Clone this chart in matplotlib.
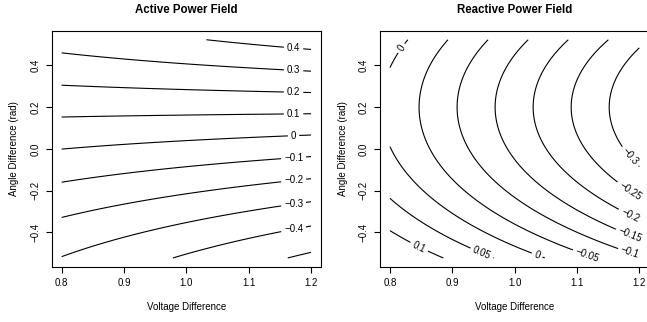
import numpy as np
import matplotlib
matplotlib.use("Agg")
import matplotlib.pyplot as plt

plt.rcParams['font.family'] = ['Liberation Sans', 'DejaVu Sans']
plt.rcParams['axes.unicode_minus'] = True
plt.rcParams['contour.negative_linestyle'] = 'solid'

# ---------------- data ----------------
voltage_range = [0.8, 1.2]
angle_range = [-np.pi / 6, np.pi / 6]
x_ticks = [0.8, 0.9, 1.0, 1.1, 1.2]
y_ticks = [-0.4, -0.2, 0.0, 0.2, 0.4]
p_unlabeled_levels = [-0.5]
p_label_levels = [-0.4, -0.3, -0.2, -0.1, 0.0, 0.1, 0.2, 0.3, 0.4]
q_levels = [-0.3, -0.25, -0.2, -0.15, -0.1, -0.05, 0.0, 0.05, 0.1]
q_edge_levels = [-0.3, -0.25, -0.2, -0.15, -0.1]
q_bottom_levels = [-0.05, 0.0, 0.05, 0.1]
q_top_levels = [0.0]
# line model parameters
line_reactance = 1.22
angle_offset = 0.2
p_offset = 0.131
q_offset = 0.644

# ---------------- field ----------------
v = np.linspace(voltage_range[0], voltage_range[1], 301)
th = np.linspace(angle_range[0], angle_range[1], 301)
V, TH = np.meshgrid(v, th)
P = p_offset + V * np.sin(TH - angle_offset) / line_reactance
Q = q_offset - V * np.cos(TH - angle_offset) / line_reactance


def fmt(val):
    s = f"{val:g}"
    if s in ("-0", "0"):
        return "0"
    return s.replace("-", "\u2212")


W, H = 647, 322
fig = plt.figure(figsize=(W / 100, H / 100), dpi=100)
ax_w, ax_h = 269.3 / W, 235.7 / H
bottom = (H - 266.7) / H
axL = fig.add_axes([51.7 / W, bottom, ax_w, ax_h])
axR = fig.add_axes([380.0 / W, bottom, ax_w, ax_h])

FS = 7.0
for ax, title in ((axL, "Active Power Field"), (axR, "Reactive Power Field")):
    pad_x = 0.04 * (voltage_range[1] - voltage_range[0])
    pad_y = 0.04 * (angle_range[1] - angle_range[0])
    ax.set_xlim(voltage_range[0] - pad_x, voltage_range[1] + pad_x)
    ax.set_ylim(angle_range[0] - pad_y, angle_range[1] + pad_y)
    ax.set_xticks(x_ticks)
    ax.set_xticklabels([f"{t:.1f}" for t in x_ticks])
    ax.set_yticks(y_ticks)
    ax.set_yticklabels([fmt(round(t, 1)) if t != 0 else "0.0" for t in y_ticks],
                       rotation=90, va='center')
    ax.tick_params(direction='out', length=4, width=0.8, labelsize=FS, pad=4)
    for sp in ax.spines.values():
        sp.set_linewidth(0.8)
    ax.set_title(title, fontsize=8.3, fontweight='bold', pad=13)
    ax.set_xlabel("Voltage Difference", fontsize=FS, labelpad=10)
    ax.set_ylabel("Angle Difference (rad)", fontsize=FS, labelpad=8)

# active power contours
axL.contour(V, TH, P, levels=p_unlabeled_levels, colors='black',
            linewidths=0.8, linestyles='solid')
csP = axL.contour(V, TH, P, levels=p_label_levels, colors='black',
                  linewidths=0.8, linestyles='solid')
v_lab = 1.172
posP = [(v_lab, angle_offset + np.arcsin(line_reactance * (lv - p_offset) / v_lab))
        for lv in p_label_levels]
txtP = axL.clabel(csP, manual=posP, inline=True, inline_spacing=3, fmt=fmt, fontsize=FS)
for t in txtP:
    t.set_rotation(0)

# reactive power contours
csQ = axR.contour(V, TH, Q, levels=q_levels, colors='black',
                  linewidths=0.8, linestyles='solid')
posQ = []
v_edge = 1.185
for lv in q_edge_levels:
    posQ.append((v_edge, angle_offset - np.arccos(line_reactance * (q_offset - lv) / v_edge)))
for lv, tb in zip(q_bottom_levels, [-0.51, -0.51, -0.50, -0.47]):
    posQ.append((line_reactance * (q_offset - lv) / np.cos(tb - angle_offset), tb))
for lv in q_top_levels:
    tt = 0.483
    posQ.append((line_reactance * (q_offset - lv) / np.cos(tt - angle_offset), tt))
axR.clabel(csQ, manual=posQ, inline=True, inline_spacing=3, fmt=fmt, fontsize=FS)

fig.savefig("out.png", dpi=100)
